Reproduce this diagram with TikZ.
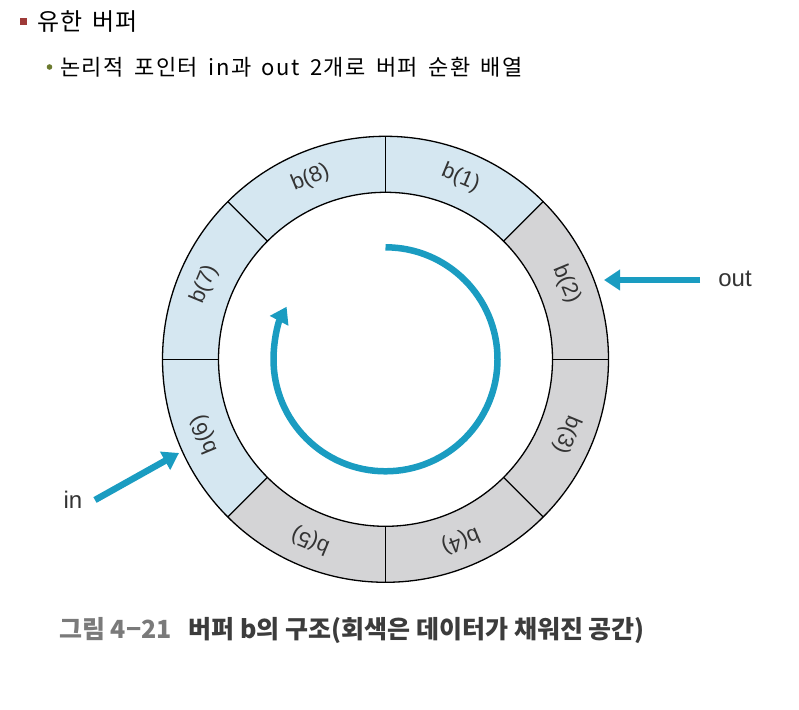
\documentclass[tikz,border=0pt]{standalone}
\usepackage{fontspec}
\setmainfont{Liberation Sans}
\newfontfamily\kr{Noto Sans CJK KR}
\newfontfamily\krsp[LetterSpace=7,WordSpace=1.6]{Noto Sans CJK KR}
\newfontfamily\krti[LetterSpace=5,WordSpace=1.5]{Noto Sans CJK KR}
\usetikzlibrary{arrows.meta}
\definecolor{segblue}{HTML}{D5E7F1}
\definecolor{seggray}{HTML}{D4D4D6}
\definecolor{arrowblue}{HTML}{1A9CC1}
\definecolor{bulletred}{HTML}{9E3A38}
\definecolor{bulletgreen}{HTML}{6B7A2E}
\definecolor{captiongray}{HTML}{7A7A7A}
\definecolor{captiondark}{HTML}{3C3C3C}
\definecolor{labelgray}{HTML}{333333}
\tikzset{
  ringline/.style={draw=black, line width=1.3},
  seglabel/.style={font=\fontsize{22}{22}\selectfont, text=labelgray, inner sep=0},
  blueptr/.style={draw=arrowblue, line width=6.5, -{Triangle[length=16,width=20]}},
  ptrlabel/.style={font=\fontsize{24}{24}\selectfont, text=labelgray, inner sep=0},
}
\begin{document}
\begin{tikzpicture}[x=1pt,y=1pt]
\useasboundingbox (0,0) rectangle (799,709);
% header
\fill[bulletred] (20,684) rectangle (27,691);
\node[anchor=west, inner sep=0, font=\krti\fontsize{24}{24}\selectfont] (title) at (37,687) {유한 버퍼};
\fill[bulletgreen] (49.5,642) circle[radius=2.8];
\node[anchor=west, inner sep=0, font=\krsp\fontsize{22}{22}\selectfont] (sub) at (60,642) {논리적 포인터 in과 out 2개로 버퍼 순환 배열};
% ring
\begin{scope}[shift={(385.5,349.7)}]
\foreach \i/\a/\col in {1/90/segblue, 2/45/seggray, 3/0/seggray, 4/-45/seggray, 5/-90/seggray, 6/-135/segblue, 7/180/segblue, 8/135/segblue}{
  \fill[\col] (\a:223) arc[start angle=\a, end angle=\a-45, radius=223]
     -- (\a-45:167) arc[start angle=\a-45, end angle=\a, radius=167] -- cycle;
  \pgfmathsetmacro{\m}{\a-22.5}
  \pgfmathsetmacro{\r}{\a-112.5}
  \node[seglabel, rotate=\r] (b\i) at (\m:196) {b(\i)};
}
\foreach \a in {0,45,...,315}{
  \draw[ringline] (\a:167) -- (\a:223);
}
\draw[ringline] (0,0) circle[radius=223];
\draw[ringline] (0,0) circle[radius=167];
\coordinate (arcstart) at (90:112);
\draw[blueptr] (arcstart) arc[start angle=90, end angle=-208, radius=112];
\end{scope}
% pointers
\node[ptrlabel] (out) at (735,430) {out};
\coordinate (outtail) at (700,429);
\coordinate (outtip) at (604,429);
\draw[blueptr] (outtail) -- (outtip);
\node[ptrlabel] (in) at (73,209) {in};
\coordinate (intail) at (95,209);
\coordinate (intip) at (179,256);
\draw[blueptr] (intail) -- (intip);
% caption
\node[anchor=west, inner sep=0, font=\kr\bfseries\fontsize{25}{25}\selectfont] (cap) at (59,79)
  {\textcolor{captiongray}{그림 4−21}\hspace{17pt}\textcolor{captiondark}{버퍼 b의 구조(회색은 데이터가 채워진 공간)}};
\end{tikzpicture}
\end{document}
